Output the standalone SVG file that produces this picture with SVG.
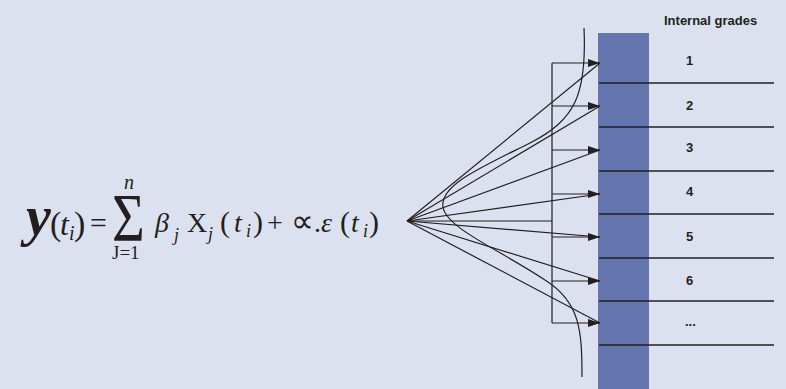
<svg xmlns="http://www.w3.org/2000/svg" width="786" height="389" viewBox="0 0 786 389">
<defs>
<style>
.m{font-family:"Liberation Serif","Times New Roman",serif;fill:#231f20}
.it{font-style:italic}
.lab{font-family:"Liberation Sans",Arial,sans-serif;font-weight:bold;font-size:13px;fill:#231f20}
.ln{stroke:#231f20;stroke-width:1.2;fill:none}
.rule{stroke:#231f20;stroke-width:1.3}
</style>
<marker id="ah" viewBox="0 0 12 8" refX="12" refY="4" markerWidth="12" markerHeight="8" markerUnits="userSpaceOnUse" orient="auto">
<path d="M0,0 L12,4 L0,8 Z" fill="#231f20"/>
</marker>
</defs>
<rect width="786" height="389" fill="#dce1ef"/>
<g id="formula">
<text class="m it" x="26" y="235" font-size="56" font-weight="bold">y</text>
<text class="m" x="50" y="235" font-size="34">(</text>
<text class="m it" x="60" y="235" font-size="32">t</text>
<text class="m it" x="69" y="240" font-size="20">i</text>
<text class="m" x="74" y="235" font-size="34">)</text>
<text class="m" x="90" y="233" font-size="30">=</text>
<text class="m" transform="translate(112,240) scale(0.88,1.05)" font-size="64">Σ</text>
<text class="m it" x="124" y="189" font-size="20">n</text>
<text class="m" x="112" y="259" font-size="19">J=1</text>
<text class="m it" x="155" y="232" font-size="28">β</text>
<text class="m it" x="174" y="241" font-size="18">j</text>
<text class="m" x="187" y="232" font-size="28">X</text>
<text class="m it" x="208" y="240" font-size="18">j</text>
<text class="m" x="220" y="232" font-size="30">(</text>
<text class="m it" x="234" y="232" font-size="28">t</text>
<text class="m it" x="246" y="237" font-size="18">i</text>
<text class="m" x="253" y="232" font-size="30">)</text>
<text class="m" x="267" y="232" font-size="28">+</text>
<text class="m" x="291" y="232" font-size="32">∝</text>
<text class="m" x="314" y="232" font-size="28">.</text>
<text class="m it" x="321" y="232" font-size="28">ε</text>
<text class="m" x="340" y="232" font-size="30">(</text>
<text class="m it" x="351" y="232" font-size="28">t</text>
<text class="m it" x="363" y="237" font-size="18">i</text>
<text class="m" x="369" y="232" font-size="30">)</text>
</g>
<g id="grade-bar">
<rect x="598" y="33" width="51" height="356" fill="#6476ad"/>
</g>
<g id="grades">
<text class="lab" x="664" y="25">Internal grades</text>
<g id="grade-1"><text class="lab" x="686" y="65">1</text><line class="rule" x1="599" y1="83" x2="774" y2="83"/></g>
<g id="grade-2"><text class="lab" x="686" y="110">2</text><line class="rule" x1="599" y1="127" x2="774" y2="127"/></g>
<g id="grade-3"><text class="lab" x="686" y="152">3</text><line class="rule" x1="599" y1="171" x2="774" y2="171"/></g>
<g id="grade-4"><text class="lab" x="686" y="196">4</text><line class="rule" x1="599" y1="214" x2="774" y2="214"/></g>
<g id="grade-5"><text class="lab" x="686" y="241">5</text><line class="rule" x1="599" y1="258" x2="774" y2="258"/></g>
<g id="grade-6"><text class="lab" x="686" y="285">6</text><line class="rule" x1="599" y1="301" x2="774" y2="301"/></g>
<g id="grade-more"><text class="lab" x="685" y="326">...</text><line class="rule" x1="599" y1="345" x2="774" y2="345"/></g>
</g>
<g id="distribution-curve">
<path class="ln" d="M584,28 C587,95 575,120 530,143 C480,168 440,185 443,207 C446,228 500,250 545,280 C580,302 582,330 582,377"/>
</g>
<g id="connectors">
<path class="ln" d="M552,63 V323 M407,221 H552"/>
<g marker-end="url(#ah)" class="ln">
<line x1="552" y1="63" x2="600" y2="63"/>
<line x1="552" y1="106" x2="600" y2="106"/>
<line x1="552" y1="150" x2="600" y2="150"/>
<line x1="552" y1="194" x2="600" y2="194"/>
<line x1="552" y1="237" x2="600" y2="237"/>
<line x1="552" y1="281" x2="600" y2="281"/>
<line x1="552" y1="323" x2="600" y2="323"/>
</g>
<g class="ln">
<line x1="407" y1="221" x2="600" y2="63"/>
<line x1="407" y1="221" x2="600" y2="106"/>
<line x1="407" y1="221" x2="600" y2="150"/>
<line x1="407" y1="221" x2="600" y2="194"/>
<line x1="407" y1="221" x2="600" y2="237"/>
<line x1="407" y1="221" x2="600" y2="281"/>
<line x1="407" y1="221" x2="600" y2="323"/>
</g>
</g>
</svg>
